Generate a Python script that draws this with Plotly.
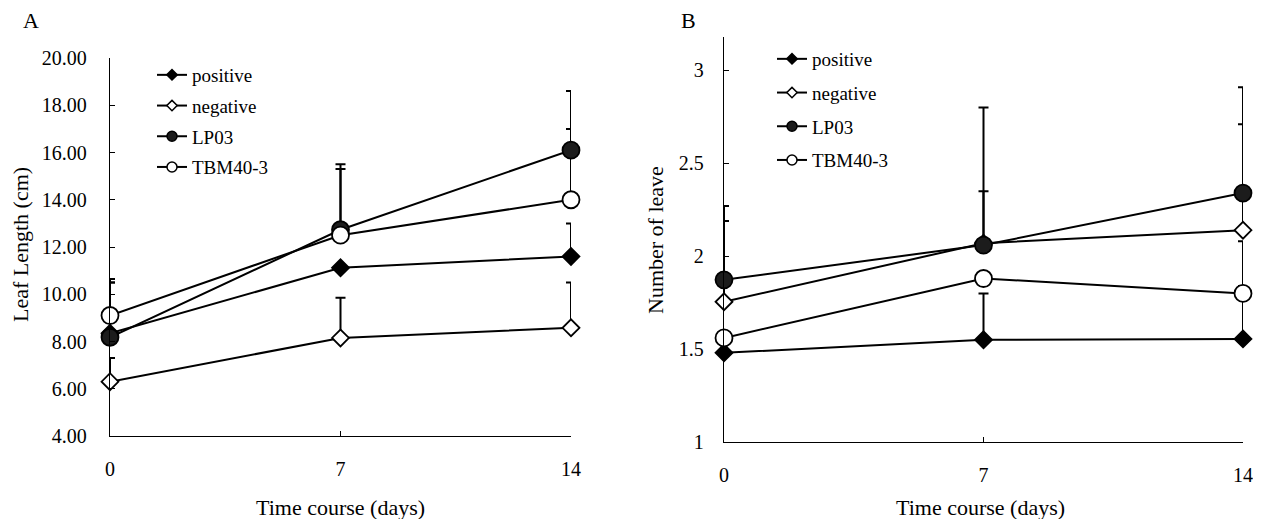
import plotly.graph_objects as go

# ---------------- data ----------------
days = [0, 7, 14]
series_names = ["positive", "negative", "LP03", "TBM40-3"]

# Panel A: leaf length (cm)
leaf_positive = [8.35, 11.12, 11.60]
leaf_negative = [6.30, 8.15, 8.58]
leaf_lp03 = [8.18, 12.73, 16.10]
leaf_tbm = [9.10, 12.50, 14.00]
# upper error (SD)
leaf_positive_err = [2.15, 0.0, 1.40]
leaf_negative_err = [1.00, 1.70, 1.92]
leaf_lp03_err = [2.32, 2.77, 2.50]
leaf_tbm_err = [1.55, 2.80, 3.00]

# Panel B: number of leaves
num_positive = [1.48, 1.55, 1.555]
num_negative = [1.755, 2.07, 2.14]
num_lp03 = [1.873, 2.06, 2.34]
num_tbm = [1.56, 1.88, 1.80]
num_positive_err = [0.0, 0.25, 0.285]
num_negative_err = [0.435, 0.28, 0.57]
num_lp03_err = [0.397, 0.74, 0.57]
num_tbm_err = [0.0, 0.0, 0.28]

leaf_ticks = [4, 6, 8, 10, 12, 14, 16, 18, 20]
num_ticks = [1, 1.5, 2, 2.5, 3]

# ---------------- styles ----------------
FONT = "Liberation Serif"
OFF = 8                      # default page body margin
W, H = 1261 - OFF, 519 - OFF
styles = {
    "positive": dict(symbol="diamond", color="#000000", line="#000000", size=13),
    "negative": dict(symbol="diamond", color="#ffffff", line="#000000", size=13),
    "LP03": dict(symbol="circle", color="#1c1c1c", line="#000000", size=17),
    "TBM40-3": dict(symbol="circle", color="#ffffff", line="#000000", size=17),
}
legend_size = {"positive": 8, "negative": 8, "LP03": 10, "TBM40-3": 10}

fig = go.Figure()

panels = [
    ("x", "y", "legend", [leaf_positive, leaf_negative, leaf_lp03, leaf_tbm],
     [leaf_positive_err, leaf_negative_err, leaf_lp03_err, leaf_tbm_err]),
    ("x2", "y2", "legend2", [num_positive, num_negative, num_lp03, num_tbm],
     [num_positive_err, num_negative_err, num_lp03_err, num_tbm_err]),
]

for xa, ya, leg, vals, errs in panels:
    # error bars drawn first
    for name, v, e in zip(series_names, vals, errs):
        fig.add_trace(go.Scatter(
            x=days, y=v, xaxis=xa, yaxis=ya, mode="markers", showlegend=False,
            marker=dict(size=1, color="rgba(0,0,0,0)"),
            error_y=dict(type="data", symmetric=False, array=e,
                         arrayminus=[0] * len(e), color="#000000",
                         thickness=2, width=5),
            cliponaxis=False, hoverinfo="skip"))
    for name, v in zip(series_names, vals):
        s = styles[name]
        fig.add_trace(go.Scatter(
            x=days, y=v, xaxis=xa, yaxis=ya, mode="lines+markers", name=name,
            showlegend=False,
            line=dict(color="#000000", width=2),
            marker=dict(symbol=s["symbol"], size=s["size"], color=s["color"],
                        line=dict(color=s["line"], width=1.8)),
            cliponaxis=False))
    # legend proxies (no data)
    for name in series_names:
        s = styles[name]
        fig.add_trace(go.Scatter(
            x=[None], y=[None], xaxis=xa, yaxis=ya, mode="lines+markers",
            name=name, legend=leg, legendgroup=leg + name, showlegend=True,
            line=dict(color="#000000", width=2),
            marker=dict(symbol=s["symbol"], size=legend_size[name],
                        color=s["color"], line=dict(color=s["line"], width=1.5))))

def px_x(p):
    return (p - OFF) / W

def px_y(p):
    return 1 - (p - OFF) / H

axis_common = dict(showline=True, linecolor="#000000", linewidth=1.3,
                   showgrid=False, zeroline=False, ticks="inside", ticklen=5,
                   tickwidth=1, tickcolor="#000000", mirror=False,
                   automargin=False,
                   tickfont=dict(family=FONT, size=20, color="#000000"))

def ann(text, x, y, size, angle=0):
    return dict(text=text, x=px_x(x), y=px_y(y), xref="paper", yref="paper",
                xanchor="center", yanchor="middle", showarrow=False,
                textangle=angle, font=dict(family=FONT, size=size, color="#000000"))

fig.update_layout(
    template="none",
    width=W, height=H, autosize=False,
    margin=dict(l=0, r=0, t=0, b=0, pad=0),
    paper_bgcolor="#ffffff", plot_bgcolor="#ffffff",
    font=dict(family=FONT, color="#000000"),
    xaxis=dict(domain=[px_x(110), px_x(571)], anchor="y", range=[0, 14],
               tickvals=days, ticktext=[str(d) for d in days],
               ticklabelstandoff=15, **axis_common),
    yaxis=dict(domain=[px_y(436), px_y(58)], anchor="x", range=[4, 20],
               tickvals=leaf_ticks, tickformat=".2f", ticklabelstandoff=18,
               **axis_common),
    xaxis2=dict(domain=[px_x(724), px_x(1243)], anchor="y2", range=[0, 14],
                tickvals=days, ticktext=[str(d) for d in days],
                ticklabelstandoff=15, **axis_common),
    yaxis2=dict(domain=[px_y(442), px_y(37)], anchor="x2", range=[1, 3.18],
                tickvals=num_ticks, ticktext=["1", "1.5", "2", "2.5", "3"],
                ticklabelstandoff=15, **axis_common),
    legend=dict(x=px_x(152), y=px_y(56), xanchor="left", yanchor="top",
                bgcolor="rgba(0,0,0,0)", borderwidth=0, tracegroupgap=3,
                font=dict(family=FONT, size=19, color="#000000"),
                itemsizing="trace"),
    legend2=dict(x=px_x(772), y=px_y(40), xanchor="left", yanchor="top",
                 bgcolor="rgba(0,0,0,0)", borderwidth=0, tracegroupgap=6,
                 font=dict(family=FONT, size=19, color="#000000"),
                 itemsizing="trace"),
    annotations=[
        ann("A", 31, 21, 22),
        ann("B", 688, 21, 22),
        ann("Time course (days)", 341, 507, 22),
        ann("Time course (days)", 980, 507, 22),
        ann("Leaf Length (cm)", 21, 245, 22, -90),
        ann("Number of leave", 655, 240, 22, -90),
    ],
)

fig.write_html("out.html")
